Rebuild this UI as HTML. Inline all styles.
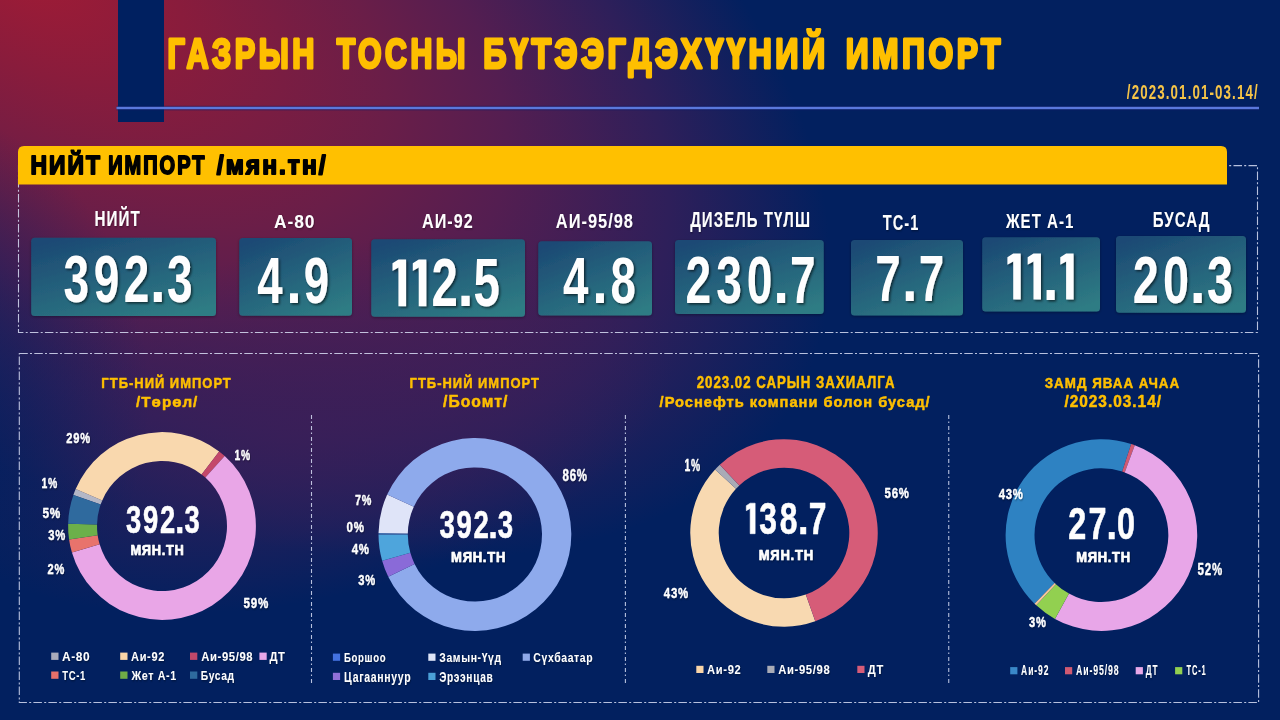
<!DOCTYPE html>
<html><head><meta charset="utf-8"><style>
html,body{margin:0;padding:0;width:1280px;height:720px;overflow:hidden;background:#02205f}
svg{display:block}
text{font-family:"Liberation Sans",sans-serif}
</style></head><body>
<svg width="1280" height="720" viewBox="0 0 1280 720">
<defs>
<radialGradient id="bg" gradientUnits="userSpaceOnUse" cx="0" cy="0" r="1" gradientTransform="translate(20,-35) rotate(29) scale(890,468)">
<stop offset="0" stop-color="#a01b35"/>
<stop offset="0.2" stop-color="#891c3c"/>
<stop offset="0.45" stop-color="#6a1e48"/>
<stop offset="0.6" stop-color="#541e51"/>
<stop offset="0.8" stop-color="#2e1f5a"/>
<stop offset="1" stop-color="#02205f"/>
</radialGradient>
<radialGradient id="glow" gradientUnits="userSpaceOnUse" cx="0" cy="0" r="1" gradientTransform="translate(300,425) rotate(-12) scale(380,175)">
<stop offset="0" stop-color="#3c1f58" stop-opacity="0.75"/>
<stop offset="0.6" stop-color="#3c1f58" stop-opacity="0.4"/>
<stop offset="1" stop-color="#3c1f58" stop-opacity="0"/>
</radialGradient>
<radialGradient id="vig" gradientUnits="userSpaceOnUse" cx="0" cy="0" r="1" gradientTransform="translate(-110,400) scale(260,300)">
<stop offset="0" stop-color="#02205f" stop-opacity="0.85"/>
<stop offset="0.5" stop-color="#02205f" stop-opacity="0.45"/>
<stop offset="1" stop-color="#02205f" stop-opacity="0"/>
</radialGradient>
<linearGradient id="bx" x1="0.2" y1="0" x2="0.8" y2="1">
<stop offset="0" stop-color="#1c4a74"/>
<stop offset="1" stop-color="#2f7c84"/>
</linearGradient>
<filter id="tsh" x="-20%" y="-20%" width="140%" height="140%">
<feDropShadow dx="1.5" dy="1.5" stdDeviation="1" flood-color="#000" flood-opacity="0.6"/>
</filter>
<filter id="lsh" x="-20%" y="-30%" width="140%" height="160%">
<feDropShadow dx="0.8" dy="0.8" stdDeviation="0.8" flood-color="#000" flood-opacity="0.45"/>
</filter>
<filter id="bsh" x="-10%" y="-10%" width="120%" height="130%">
<feDropShadow dx="0" dy="1" stdDeviation="1.5" flood-color="#000" flood-opacity="0.35"/>
</filter>
</defs>
<rect x="0" y="0" width="1280" height="720" fill="url(#bg)"/>
<rect x="0" y="0" width="1280" height="720" fill="url(#glow)"/>
<rect x="0" y="0" width="1280" height="720" fill="url(#vig)"/>
<rect x="118" y="0" width="46" height="122" fill="#002060"/>
<rect x="116.5" y="105.8" width="1142.5" height="4.6" fill="#101c66" opacity="0.5"/>
<rect x="116.5" y="106.8" width="1142.5" height="2.4" fill="#5a78dc"/>
<rect x="18.5" y="165.6" width="1239" height="166.9" stroke="#d8def5" stroke-opacity="0.85" stroke-width="1.1" fill="none" stroke-dasharray="8.5 2.2 2 2.3"/>
<path d="M18,152 Q18,146 24,146 L1221,146 Q1227,146 1227,152 L1227,184.5 L18,184.5 Z" fill="#ffc000"/>
<path d="M18,146 L18,184.5" stroke="none"/>
<rect x="19.3" y="353.5" width="1239.3" height="349" stroke="#d8def5" stroke-opacity="0.85" stroke-width="1.1" fill="none" stroke-dasharray="8.5 2.2 2 2.3"/>
<line x1="311.5" y1="415" x2="311.5" y2="683.5" stroke="#d8def5" stroke-opacity="0.85" stroke-width="1.1" fill="none" stroke-dasharray="4 2.5 1.5 3"/>
<line x1="625.4" y1="415" x2="625.4" y2="683.5" stroke="#d8def5" stroke-opacity="0.85" stroke-width="1.1" fill="none" stroke-dasharray="4 2.5 1.5 3"/>
<line x1="948.75" y1="415" x2="948.75" y2="683.5" stroke="#d8def5" stroke-opacity="0.85" stroke-width="1.1" fill="none" stroke-dasharray="4 2.5 1.5 3"/>
<rect x="31.2" y="237.7" width="184.80" height="78.30" rx="3.5" fill="url(#bx)" filter="url(#bsh)"/>
<rect x="239.25" y="238" width="112.75" height="77.75" rx="3.5" fill="url(#bx)" filter="url(#bsh)"/>
<rect x="371.25" y="239.25" width="153.75" height="77.50" rx="3.5" fill="url(#bx)" filter="url(#bsh)"/>
<rect x="538.25" y="241.25" width="113.75" height="74.25" rx="3.5" fill="url(#bx)" filter="url(#bsh)"/>
<rect x="675" y="240" width="148.75" height="74.00" rx="3.5" fill="url(#bx)" filter="url(#bsh)"/>
<rect x="851" y="240" width="112.00" height="75.50" rx="3.5" fill="url(#bx)" filter="url(#bsh)"/>
<rect x="982.2" y="237.2" width="117.80" height="74.40" rx="3.5" fill="url(#bx)" filter="url(#bsh)"/>
<rect x="1116" y="236" width="130.00" height="76.75" rx="3.5" fill="url(#bx)" filter="url(#bsh)"/>
<path d="M73.38,494.96 A93.9,93.9 0 0 1 75.69,489.01 L102.26,500.39 A65,65 0 0 0 100.65,504.52 Z" fill="#b4b7c6" />
<path d="M75.69,489.01 A93.9,93.9 0 0 1 219.16,451.50 L201.57,474.43 A65,65 0 0 0 102.26,500.39 Z" fill="#f9d8ae" />
<path d="M219.16,451.50 A93.9,93.9 0 0 1 224.71,456.11 L205.41,477.62 A65,65 0 0 0 201.57,474.43 Z" fill="#c4486a" />
<path d="M224.71,456.11 A93.9,93.9 0 1 1 71.92,552.51 L99.64,544.35 A65,65 0 1 0 205.41,477.62 Z" fill="#e9a6e7" />
<path d="M71.92,552.51 A93.9,93.9 0 0 1 69.06,539.39 L97.66,535.27 A65,65 0 0 0 99.64,544.35 Z" fill="#e8736c" />
<path d="M69.06,539.39 A93.9,93.9 0 0 1 68.13,523.71 L97.02,524.41 A65,65 0 0 0 97.66,535.27 Z" fill="#6cb04a" />
<path d="M68.13,523.71 A93.9,93.9 0 0 1 73.38,494.96 L100.65,504.52 A65,65 0 0 0 97.02,524.41 Z" fill="#2f6a9e" />
<path d="M378.50,534.84 A96.4,96.4 0 0 1 378.51,532.99 L407.81,533.45 A67.1,67.1 0 0 0 407.80,534.73 Z" fill="#3e6db0" />
<path d="M378.51,532.99 A96.4,96.4 0 0 1 387.18,494.52 L413.84,506.67 A67.1,67.1 0 0 0 407.81,533.45 Z" fill="#dfe4f8" />
<path d="M387.18,494.52 A96.4,96.4 0 1 1 388.26,576.76 L414.59,563.91 A67.1,67.1 0 1 0 413.84,506.67 Z" fill="#8eaaec" />
<path d="M388.26,576.76 A96.4,96.4 0 0 1 382.14,560.75 L410.34,552.77 A67.1,67.1 0 0 0 414.59,563.91 Z" fill="#8a6ad8" />
<path d="M382.14,560.75 A96.4,96.4 0 0 1 378.50,534.84 L407.80,534.73 A67.1,67.1 0 0 0 410.34,552.77 Z" fill="#4ea5dc" />
<path d="M815.29,621.37 A93.75,93.75 0 0 1 715.10,469.42 L736.01,488.72 A65.3,65.3 0 0 0 805.80,594.55 Z" fill="#f8d9b1" />
<path d="M715.10,469.42 A93.75,93.75 0 0 1 719.82,464.66 L739.30,485.40 A65.3,65.3 0 0 0 736.01,488.72 Z" fill="#a9abb6" />
<path d="M719.82,464.66 A93.75,93.75 0 1 1 815.29,621.37 L805.80,594.55 A65.3,65.3 0 1 0 739.30,485.40 Z" fill="#d65c78" />
<path d="M1034.49,603.66 A95.8,95.8 0 0 1 1131.16,444.04 L1122.18,471.51 A66.9,66.9 0 0 0 1054.68,582.98 Z" fill="#2e82c2" />
<path d="M1131.16,444.04 A95.8,95.8 0 0 1 1134.79,445.31 L1124.72,472.40 A66.9,66.9 0 0 0 1122.18,471.51 Z" fill="#d05a72" />
<path d="M1134.79,445.31 A95.8,95.8 0 1 1 1054.96,618.89 L1068.97,593.61 A66.9,66.9 0 1 0 1124.72,472.40 Z" fill="#e8a6e8" />
<path d="M1054.96,618.89 A95.8,95.8 0 0 1 1036.25,605.33 L1055.90,584.15 A66.9,66.9 0 0 0 1068.97,593.61 Z" fill="#92d050" />
<path d="M1036.25,605.33 A95.8,95.8 0 0 1 1034.49,603.66 L1054.68,582.98 A66.9,66.9 0 0 0 1055.90,584.15 Z" fill="#f6c89a" />
<rect x="51.2" y="652.6" width="7.3" height="7.3" fill="#a9abbb"/><rect x="120.2" y="652.6" width="7.3" height="7.3" fill="#fad5a8"/><rect x="190" y="652.6" width="7.3" height="7.3" fill="#c0486a"/><rect x="259.4" y="652.6" width="7.3" height="7.3" fill="#e8a8e8"/><rect x="51.2" y="671.5" width="7.3" height="7.3" fill="#e8706a"/><rect x="120.2" y="671.5" width="7.3" height="7.3" fill="#70ad47"/><rect x="190" y="671.5" width="7.3" height="7.3" fill="#2e6a9e"/><rect x="332.9" y="653.6" width="7.2" height="7.2" fill="#4472e0"/><rect x="428.3" y="653.6" width="7.2" height="7.2" fill="#dfe5f8"/><rect x="522.7" y="653.6" width="7.2" height="7.2" fill="#8ea8e8"/><rect x="332.9" y="672.8" width="7.2" height="7.2" fill="#9070d8"/><rect x="428.3" y="672.8" width="7.2" height="7.2" fill="#4aa0d8"/><rect x="696.3" y="665.8" width="7.2" height="7.2" fill="#fad5a8"/><rect x="767.3" y="665.8" width="7.2" height="7.2" fill="#a9abb6"/><rect x="857.3" y="665.8" width="7.2" height="7.2" fill="#d65c78"/><rect x="1010.2" y="667.1" width="7.2" height="7.2" fill="#3a88c8"/><rect x="1065" y="667.1" width="7.2" height="7.2" fill="#d05a72"/><rect x="1135.7" y="667.1" width="7.2" height="7.2" fill="#e8a8e8"/><rect x="1175.1" y="667.1" width="7.2" height="7.2" fill="#92d050"/>
<g opacity="0.999">
<text transform="translate(167.51,68.10) scale(0.7320,1)" font-size="41.88" font-weight="bold" fill="#ffc000" stroke="#ffc000" stroke-width="3" stroke-linejoin="round" letter-spacing="4.781" >ГАЗРЫН</text>
<text transform="translate(336.78,68.10) scale(0.7229,1)" font-size="41.88" font-weight="bold" fill="#ffc000" stroke="#ffc000" stroke-width="3" stroke-linejoin="round" letter-spacing="4.842" >ТОСНЫ</text>
<text transform="translate(483.26,68.10) scale(0.7704,1)" font-size="41.88" font-weight="bold" fill="#ffc000" stroke="#ffc000" stroke-width="3" stroke-linejoin="round" letter-spacing="4.543" >БҮТЭЭГДЭХҮҮНИЙ</text>
<text transform="translate(845.77,68.10) scale(0.7592,1)" font-size="41.88" font-weight="bold" fill="#ffc000" stroke="#ffc000" stroke-width="3" stroke-linejoin="round" letter-spacing="4.610" >ИМПОРТ</text>
<text transform="translate(1126.87,99.20) scale(0.6675,1)" font-size="20.00" font-weight="bold" fill="#f7c548" letter-spacing="1.648" >/2023.01.01-03.14/</text>
<text transform="translate(30.57,173.60) scale(0.8917,1)" font-size="25.65" font-weight="bold" fill="#000" stroke="#000" stroke-width="1.8" stroke-linejoin="round" letter-spacing="2.243" >НИЙТ</text>
<text transform="translate(108.15,173.60) scale(0.7801,1)" font-size="25.65" font-weight="bold" fill="#000" stroke="#000" stroke-width="1.8" stroke-linejoin="round" letter-spacing="2.564" >ИМПОРТ</text>
<text transform="translate(216.87,173.60) scale(0.9583,1)" font-size="25.65" font-weight="bold" fill="#000" stroke="#000" stroke-width="1.8" stroke-linejoin="round" letter-spacing="2.087" >/мян.тн/</text>
<text transform="translate(94.61,225.70) scale(0.7143,1)" font-size="21.30" font-weight="bold" fill="#fff" letter-spacing="1.441"  filter="url(#lsh)">НИЙТ</text>
<text transform="translate(274.07,227.50) scale(0.9043,1)" font-size="19.20" font-weight="bold" fill="#fff" letter-spacing="1.026"  filter="url(#lsh)">А-80</text>
<text transform="translate(422.10,228.00) scale(0.7966,1)" font-size="20.29" font-weight="bold" fill="#fff" letter-spacing="1.230"  filter="url(#lsh)">АИ-92</text>
<text transform="translate(555.84,228.00) scale(0.7948,1)" font-size="20.65" font-weight="bold" fill="#fff" letter-spacing="1.255"  filter="url(#lsh)">АИ-95/98</text>
<text transform="translate(690.15,226.70) scale(0.6900,1)" font-size="21.74" font-weight="bold" fill="#fff" letter-spacing="1.522"  filter="url(#lsh)">ДИЗЕЛЬ ТҮЛШ</text>
<text transform="translate(882.85,229.50) scale(0.6907,1)" font-size="21.16" font-weight="bold" fill="#fff" letter-spacing="1.480"  filter="url(#lsh)">ТС-1</text>
<text transform="translate(1006.00,227.80) scale(0.7332,1)" font-size="20.58" font-weight="bold" fill="#fff" letter-spacing="1.356"  filter="url(#lsh)">ЖЕТ А-1</text>
<text transform="translate(1152.82,227.00) scale(0.6991,1)" font-size="21.59" font-weight="bold" fill="#fff" letter-spacing="1.492"  filter="url(#lsh)">БУСАД</text>
<text transform="translate(101.37,387.75) scale(0.8529,1)" font-size="15.22" font-weight="bold" fill="#ffc000" stroke="#ffc000" stroke-width="0.5" stroke-linejoin="round" letter-spacing="1.173" >ГТБ-НИЙ ИМПОРТ</text>
<text transform="translate(136.10,406.75) scale(0.9998,1)" font-size="15.22" font-weight="bold" fill="#ffc000" stroke="#ffc000" stroke-width="0.5" stroke-linejoin="round" letter-spacing="1.000" >/Төрөл/</text>
<text transform="translate(409.57,387.75) scale(0.8521,1)" font-size="15.22" font-weight="bold" fill="#ffc000" stroke="#ffc000" stroke-width="0.5" stroke-linejoin="round" letter-spacing="1.174" >ГТБ-НИЙ ИМПОРТ</text>
<text transform="translate(443.09,406.75) scale(0.9937,1)" font-size="15.80" font-weight="bold" fill="#ffc000" stroke="#ffc000" stroke-width="0.5" stroke-linejoin="round" letter-spacing="1.006" >/Боомт/</text>
<text transform="translate(696.74,387.75) scale(0.8163,1)" font-size="16.23" font-weight="bold" fill="#ffc000" stroke="#ffc000" stroke-width="0.5" stroke-linejoin="round" letter-spacing="1.225" >2023.02 САРЫН ЗАХИАЛГА</text>
<text transform="translate(659.59,407.25) scale(0.9460,1)" font-size="15.51" font-weight="bold" fill="#ffc000" stroke="#ffc000" stroke-width="0.5" stroke-linejoin="round" letter-spacing="1.057" >/Роснефть компани болон бусад/</text>
<text transform="translate(1044.69,387.75) scale(0.8800,1)" font-size="15.22" font-weight="bold" fill="#ffc000" stroke="#ffc000" stroke-width="0.5" stroke-linejoin="round" letter-spacing="1.136" >ЗАМД ЯВАА АЧАА</text>
<text transform="translate(1064.39,406.75) scale(0.9748,1)" font-size="15.80" font-weight="bold" fill="#ffc000" stroke="#ffc000" stroke-width="0.5" stroke-linejoin="round" letter-spacing="1.026" >/2023.03.14/</text>
<text transform="translate(130.38,555.35) scale(0.8845,1)" font-size="14.49" font-weight="bold" fill="#fff" stroke="#fff" stroke-width="0.7" stroke-linejoin="round" letter-spacing="0.847"  filter="url(#lsh)">МЯН.ТН</text>
<text transform="translate(451.07,562.35) scale(0.8972,1)" font-size="14.49" font-weight="bold" fill="#fff" stroke="#fff" stroke-width="0.7" stroke-linejoin="round" letter-spacing="0.835"  filter="url(#lsh)">МЯН.ТН</text>
<text transform="translate(758.66,559.65) scale(0.8642,1)" font-size="15.07" font-weight="bold" fill="#fff" stroke="#fff" stroke-width="0.7" stroke-linejoin="round" letter-spacing="0.899"  filter="url(#lsh)">МЯН.ТН</text>
<text transform="translate(1076.17,562.35) scale(0.8918,1)" font-size="14.49" font-weight="bold" fill="#fff" stroke="#fff" stroke-width="0.7" stroke-linejoin="round" letter-spacing="0.840"  filter="url(#lsh)">МЯН.ТН</text>
<text transform="translate(66.34,442.88) scale(0.7676,1)" font-size="14.49" font-weight="bold" fill="#fff" stroke="#fff" stroke-width="0.35" stroke-linejoin="round" letter-spacing="0.944"  filter="url(#lsh)">29%</text>
<text transform="translate(234.50,459.82) scale(0.6668,1)" font-size="15.43" font-weight="bold" fill="#fff" stroke="#fff" stroke-width="0.35" stroke-linejoin="round" letter-spacing="1.155"  filter="url(#lsh)">1%</text>
<text transform="translate(41.50,487.52) scale(0.7057,1)" font-size="14.71" font-weight="bold" fill="#fff" stroke="#fff" stroke-width="0.35" stroke-linejoin="round" letter-spacing="1.042"  filter="url(#lsh)">1%</text>
<text transform="translate(42.39,517.62) scale(0.8439,1)" font-size="13.99" font-weight="bold" fill="#fff" stroke="#fff" stroke-width="0.35" stroke-linejoin="round" letter-spacing="0.830"  filter="url(#lsh)">5%</text>
<text transform="translate(48.15,539.62) scale(0.7728,1)" font-size="14.57" font-weight="bold" fill="#fff" stroke="#fff" stroke-width="0.35" stroke-linejoin="round" letter-spacing="0.942"  filter="url(#lsh)">3%</text>
<text transform="translate(47.54,573.73) scale(0.7435,1)" font-size="14.86" font-weight="bold" fill="#fff" stroke="#fff" stroke-width="0.35" stroke-linejoin="round" letter-spacing="0.998"  filter="url(#lsh)">2%</text>
<text transform="translate(243.54,607.73) scale(0.7662,1)" font-size="15.14" font-weight="bold" fill="#fff" stroke="#fff" stroke-width="0.35" stroke-linejoin="round" letter-spacing="0.987"  filter="url(#lsh)">59%</text>
<text transform="translate(562.58,480.72) scale(0.7355,1)" font-size="15.58" font-weight="bold" fill="#fff" stroke="#fff" stroke-width="0.35" stroke-linejoin="round" letter-spacing="1.056"  filter="url(#lsh)">86%</text>
<text transform="translate(354.90,504.88) scale(0.7307,1)" font-size="14.78" font-weight="bold" fill="#fff" stroke="#fff" stroke-width="0.35" stroke-linejoin="round" letter-spacing="1.011"  filter="url(#lsh)">7%</text>
<text transform="translate(346.58,531.93) scale(0.7750,1)" font-size="14.86" font-weight="bold" fill="#fff" stroke="#fff" stroke-width="0.35" stroke-linejoin="round" letter-spacing="0.957"  filter="url(#lsh)">0%</text>
<text transform="translate(351.77,553.62) scale(0.8030,1)" font-size="14.28" font-weight="bold" fill="#fff" stroke="#fff" stroke-width="0.35" stroke-linejoin="round" letter-spacing="0.889"  filter="url(#lsh)">4%</text>
<text transform="translate(358.35,584.62) scale(0.7679,1)" font-size="14.57" font-weight="bold" fill="#fff" stroke="#fff" stroke-width="0.35" stroke-linejoin="round" letter-spacing="0.948"  filter="url(#lsh)">3%</text>
<text transform="translate(684.50,470.82) scale(0.6604,1)" font-size="15.58" font-weight="bold" fill="#fff" stroke="#fff" stroke-width="0.35" stroke-linejoin="round" letter-spacing="1.177"  filter="url(#lsh)">1%</text>
<text transform="translate(884.59,497.82) scale(0.7395,1)" font-size="15.43" font-weight="bold" fill="#fff" stroke="#fff" stroke-width="0.35" stroke-linejoin="round" letter-spacing="1.041"  filter="url(#lsh)">56%</text>
<text transform="translate(663.76,597.83) scale(0.7405,1)" font-size="15.43" font-weight="bold" fill="#fff" stroke="#fff" stroke-width="0.35" stroke-linejoin="round" letter-spacing="1.040"  filter="url(#lsh)">43%</text>
<text transform="translate(998.76,498.72) scale(0.7413,1)" font-size="15.29" font-weight="bold" fill="#fff" stroke="#fff" stroke-width="0.35" stroke-linejoin="round" letter-spacing="1.029"  filter="url(#lsh)">43%</text>
<text transform="translate(1197.58,574.83) scale(0.7388,1)" font-size="15.58" font-weight="bold" fill="#fff" stroke="#fff" stroke-width="0.35" stroke-linejoin="round" letter-spacing="1.052"  filter="url(#lsh)">52%</text>
<text transform="translate(1029.05,626.83) scale(0.7234,1)" font-size="15.43" font-weight="bold" fill="#fff" stroke="#fff" stroke-width="0.35" stroke-linejoin="round" letter-spacing="1.064"  filter="url(#lsh)">3%</text>
<text transform="translate(62.00,660.90) scale(0.9023,1)" font-size="13.19" font-weight="bold" fill="#fff" letter-spacing="0.706"  filter="url(#lsh)">А-80</text>
<text transform="translate(131.12,660.90) scale(0.8350,1)" font-size="13.19" font-weight="bold" fill="#fff" letter-spacing="0.763"  filter="url(#lsh)">Аи-92</text>
<text transform="translate(201.22,660.90) scale(0.8539,1)" font-size="13.19" font-weight="bold" fill="#fff" letter-spacing="0.746"  filter="url(#lsh)">Аи-95/98</text>
<text transform="translate(269.39,660.90) scale(0.8520,1)" font-size="13.19" font-weight="bold" fill="#fff" letter-spacing="0.748"  filter="url(#lsh)">ДТ</text>
<text transform="translate(62.20,679.60) scale(0.7214,1)" font-size="13.19" font-weight="bold" fill="#fff" letter-spacing="0.883"  filter="url(#lsh)">ТС-1</text>
<text transform="translate(131.40,679.60) scale(0.8137,1)" font-size="13.19" font-weight="bold" fill="#fff" letter-spacing="0.783"  filter="url(#lsh)">Жет А-1</text>
<text transform="translate(200.83,679.60) scale(0.7791,1)" font-size="13.19" font-weight="bold" fill="#fff" letter-spacing="0.818"  filter="url(#lsh)">Бусад</text>
<text transform="translate(343.98,662.30) scale(0.7040,1)" font-size="13.62" font-weight="bold" fill="#fff" letter-spacing="0.935"  filter="url(#lsh)">Боршоо</text>
<text transform="translate(439.24,662.30) scale(0.7616,1)" font-size="13.62" font-weight="bold" fill="#fff" letter-spacing="0.864"  filter="url(#lsh)">Замын-Үүд</text>
<text transform="translate(533.28,662.30) scale(0.7632,1)" font-size="13.62" font-weight="bold" fill="#fff" letter-spacing="0.862"  filter="url(#lsh)">Сүхбаатар</text>
<text transform="translate(343.92,681.50) scale(0.7303,1)" font-size="14.35" font-weight="bold" fill="#fff" letter-spacing="0.949"  filter="url(#lsh)">Цагааннуур</text>
<text transform="translate(439.20,681.50) scale(0.7043,1)" font-size="14.35" font-weight="bold" fill="#fff" letter-spacing="0.984"  filter="url(#lsh)">Эрээнцав</text>
<text transform="translate(707.12,674.00) scale(0.8168,1)" font-size="13.62" font-weight="bold" fill="#fff" letter-spacing="0.806"  filter="url(#lsh)">Аи-92</text>
<text transform="translate(778.22,674.00) scale(0.8240,1)" font-size="13.62" font-weight="bold" fill="#fff" letter-spacing="0.799"  filter="url(#lsh)">Аи-95/98</text>
<text transform="translate(867.79,674.00) scale(0.8180,1)" font-size="13.62" font-weight="bold" fill="#fff" letter-spacing="0.804"  filter="url(#lsh)">ДТ</text>
<text transform="translate(1021.09,674.90) scale(0.6195,1)" font-size="13.77" font-weight="bold" fill="#fff" letter-spacing="1.453"  filter="url(#lsh)">Аи-92</text>
<text transform="translate(1075.98,674.90) scale(0.6337,1)" font-size="13.77" font-weight="bold" fill="#fff" letter-spacing="1.420"  filter="url(#lsh)">Аи-95/98</text>
<text transform="translate(1145.72,674.90) scale(0.5955,1)" font-size="13.77" font-weight="bold" fill="#fff" letter-spacing="1.511"  filter="url(#lsh)">ДТ</text>
<text transform="translate(1186.42,674.90) scale(0.5452,1)" font-size="13.77" font-weight="bold" fill="#fff" letter-spacing="1.651"  filter="url(#lsh)">ТС-1</text>
<g filter="url(#tsh)"><text transform="translate(63.55,302.00) scale(0.7000,1)" font-size="65.80" font-weight="bold" fill="#fff" stroke="#fff" stroke-width="0.000" stroke-linejoin="round">3</text><text transform="translate(93.69,302.00) scale(0.7000,1)" font-size="65.80" font-weight="bold" fill="#fff" stroke="#fff" stroke-width="0.000" stroke-linejoin="round">9</text><text transform="translate(123.83,302.00) scale(0.7000,1)" font-size="65.80" font-weight="bold" fill="#fff" stroke="#fff" stroke-width="0.000" stroke-linejoin="round">2</text><text transform="translate(150.12,302.00) scale(0.8566,1)" font-size="65.80" font-weight="bold" fill="#fff" stroke="#fff" stroke-width="0.000" stroke-linejoin="round">.</text><text transform="translate(167.05,302.00) scale(0.7000,1)" font-size="65.80" font-weight="bold" fill="#fff" stroke="#fff" stroke-width="0.000" stroke-linejoin="round">3</text></g>
<g filter="url(#tsh)"><text transform="translate(257.32,303.00) scale(0.7000,1)" font-size="65.22" font-weight="bold" fill="#fff" stroke="#fff" stroke-width="0.000" stroke-linejoin="round">4</text><text transform="translate(286.21,303.00) scale(0.8566,1)" font-size="65.22" font-weight="bold" fill="#fff" stroke="#fff" stroke-width="0.000" stroke-linejoin="round">.</text><text transform="translate(303.76,303.00) scale(0.7000,1)" font-size="65.22" font-weight="bold" fill="#fff" stroke="#fff" stroke-width="0.000" stroke-linejoin="round">9</text></g>
<g filter="url(#tsh)"><polygon points="392.50,263.33 398.44,259.50 406.06,259.50 406.06,306.25 398.44,306.25 398.44,267.54 392.50,270.95" fill="#fff" stroke="#fff" stroke-width="0" stroke-linejoin="round"/><polygon points="412.79,263.33 418.73,259.50 426.35,259.50 426.35,306.25 418.73,306.25 418.73,267.54 412.79,270.95" fill="#fff" stroke="#fff" stroke-width="0" stroke-linejoin="round"/><text transform="translate(431.42,306.25) scale(0.7000,1)" font-size="67.75" font-weight="bold" fill="#fff" stroke="#fff" stroke-width="0.000" stroke-linejoin="round">2</text><text transform="translate(457.46,306.25) scale(0.8566,1)" font-size="67.75" font-weight="bold" fill="#fff" stroke="#fff" stroke-width="0.000" stroke-linejoin="round">.</text><text transform="translate(473.61,306.25) scale(0.7000,1)" font-size="67.75" font-weight="bold" fill="#fff" stroke="#fff" stroke-width="0.000" stroke-linejoin="round">5</text></g>
<g filter="url(#tsh)"><text transform="translate(563.07,303.00) scale(0.7000,1)" font-size="65.22" font-weight="bold" fill="#fff" stroke="#fff" stroke-width="0.000" stroke-linejoin="round">4</text><text transform="translate(592.36,303.00) scale(0.8566,1)" font-size="65.22" font-weight="bold" fill="#fff" stroke="#fff" stroke-width="0.000" stroke-linejoin="round">.</text><text transform="translate(610.53,303.00) scale(0.7000,1)" font-size="65.22" font-weight="bold" fill="#fff" stroke="#fff" stroke-width="0.000" stroke-linejoin="round">8</text></g>
<g filter="url(#tsh)"><text transform="translate(685.38,302.50) scale(0.7000,1)" font-size="65.94" font-weight="bold" fill="#fff" stroke="#fff" stroke-width="0.000" stroke-linejoin="round">2</text><text transform="translate(716.25,302.50) scale(0.7000,1)" font-size="65.94" font-weight="bold" fill="#fff" stroke="#fff" stroke-width="0.000" stroke-linejoin="round">3</text><text transform="translate(746.66,302.50) scale(0.7000,1)" font-size="65.94" font-weight="bold" fill="#fff" stroke="#fff" stroke-width="0.000" stroke-linejoin="round">0</text><text transform="translate(773.36,302.50) scale(0.8566,1)" font-size="65.94" font-weight="bold" fill="#fff" stroke="#fff" stroke-width="0.000" stroke-linejoin="round">.</text><text transform="translate(789.98,302.50) scale(0.7000,1)" font-size="65.94" font-weight="bold" fill="#fff" stroke="#fff" stroke-width="0.000" stroke-linejoin="round">7</text></g>
<g filter="url(#tsh)"><text transform="translate(875.17,301.00) scale(0.7000,1)" font-size="65.51" font-weight="bold" fill="#fff" stroke="#fff" stroke-width="0.000" stroke-linejoin="round">7</text><text transform="translate(901.98,301.00) scale(0.8566,1)" font-size="65.51" font-weight="bold" fill="#fff" stroke="#fff" stroke-width="0.000" stroke-linejoin="round">.</text><text transform="translate(918.78,301.00) scale(0.7000,1)" font-size="65.51" font-weight="bold" fill="#fff" stroke="#fff" stroke-width="0.000" stroke-linejoin="round">7</text></g>
<g filter="url(#tsh)"><polygon points="1007.40,257.36 1013.23,253.60 1020.71,253.60 1020.71,299.50 1013.23,299.50 1013.23,261.49 1007.40,264.85" fill="#fff" stroke="#fff" stroke-width="0" stroke-linejoin="round"/><polygon points="1027.64,257.36 1033.47,253.60 1040.95,253.60 1040.95,299.50 1033.47,299.50 1033.47,261.49 1027.64,264.85" fill="#fff" stroke="#fff" stroke-width="0" stroke-linejoin="round"/><text transform="translate(1042.78,299.50) scale(0.8566,1)" font-size="66.52" font-weight="bold" fill="#fff" stroke="#fff" stroke-width="0.000" stroke-linejoin="round">.</text><polygon points="1060.29,257.36 1066.12,253.60 1073.60,253.60 1073.60,299.50 1066.12,299.50 1066.12,261.49 1060.29,264.85" fill="#fff" stroke="#fff" stroke-width="0" stroke-linejoin="round"/></g>
<g filter="url(#tsh)"><text transform="translate(1132.76,303.10) scale(0.7000,1)" font-size="66.96" font-weight="bold" fill="#fff" stroke="#fff" stroke-width="0.000" stroke-linejoin="round">2</text><text transform="translate(1162.94,303.10) scale(0.7000,1)" font-size="66.96" font-weight="bold" fill="#fff" stroke="#fff" stroke-width="0.000" stroke-linejoin="round">0</text><text transform="translate(1189.68,303.10) scale(0.8566,1)" font-size="66.96" font-weight="bold" fill="#fff" stroke="#fff" stroke-width="0.000" stroke-linejoin="round">.</text><text transform="translate(1206.88,303.10) scale(0.7000,1)" font-size="66.96" font-weight="bold" fill="#fff" stroke="#fff" stroke-width="0.000" stroke-linejoin="round">3</text></g>
<g><text transform="translate(125.92,533.40) scale(0.7200,1)" font-size="37.97" font-weight="bold" fill="#fff" stroke="#fff" stroke-width="0.600" stroke-linejoin="round">3</text><text transform="translate(143.02,533.40) scale(0.7200,1)" font-size="37.97" font-weight="bold" fill="#fff" stroke="#fff" stroke-width="0.600" stroke-linejoin="round">9</text><text transform="translate(160.12,533.40) scale(0.7200,1)" font-size="37.97" font-weight="bold" fill="#fff" stroke="#fff" stroke-width="0.600" stroke-linejoin="round">2</text><text transform="translate(175.16,533.40) scale(0.8566,1)" font-size="37.97" font-weight="bold" fill="#fff" stroke="#fff" stroke-width="0.600" stroke-linejoin="round">.</text><text transform="translate(184.38,533.40) scale(0.7200,1)" font-size="37.97" font-weight="bold" fill="#fff" stroke="#fff" stroke-width="0.600" stroke-linejoin="round">3</text></g>
<g><text transform="translate(439.41,537.75) scale(0.7200,1)" font-size="38.33" font-weight="bold" fill="#fff" stroke="#fff" stroke-width="0.600" stroke-linejoin="round">3</text><text transform="translate(456.46,537.75) scale(0.7200,1)" font-size="38.33" font-weight="bold" fill="#fff" stroke="#fff" stroke-width="0.600" stroke-linejoin="round">9</text><text transform="translate(473.50,537.75) scale(0.7200,1)" font-size="38.33" font-weight="bold" fill="#fff" stroke="#fff" stroke-width="0.600" stroke-linejoin="round">2</text><text transform="translate(488.51,537.75) scale(0.8566,1)" font-size="38.33" font-weight="bold" fill="#fff" stroke="#fff" stroke-width="0.600" stroke-linejoin="round">.</text><text transform="translate(497.65,537.75) scale(0.7200,1)" font-size="38.33" font-weight="bold" fill="#fff" stroke="#fff" stroke-width="0.600" stroke-linejoin="round">3</text></g>
<g><polygon points="746.30,505.70 750.17,503.20 755.14,503.20 755.14,533.70 750.17,533.70 750.17,508.45 746.30,510.67" fill="#fff" stroke="#fff" stroke-width="0.6" stroke-linejoin="round"/><text transform="translate(759.30,533.70) scale(0.7200,1)" font-size="44.20" font-weight="bold" fill="#fff" stroke="#fff" stroke-width="0.600" stroke-linejoin="round">3</text><text transform="translate(779.86,533.70) scale(0.7200,1)" font-size="44.20" font-weight="bold" fill="#fff" stroke="#fff" stroke-width="0.600" stroke-linejoin="round">8</text><text transform="translate(798.07,533.70) scale(0.8566,1)" font-size="44.20" font-weight="bold" fill="#fff" stroke="#fff" stroke-width="0.600" stroke-linejoin="round">.</text><text transform="translate(808.71,533.70) scale(0.7200,1)" font-size="44.20" font-weight="bold" fill="#fff" stroke="#fff" stroke-width="0.600" stroke-linejoin="round">7</text></g>
<g><text transform="translate(1068.17,538.50) scale(0.7400,1)" font-size="43.77" font-weight="bold" fill="#fff" stroke="#fff" stroke-width="0.600" stroke-linejoin="round">2</text><text transform="translate(1088.42,538.50) scale(0.7400,1)" font-size="43.77" font-weight="bold" fill="#fff" stroke="#fff" stroke-width="0.600" stroke-linejoin="round">7</text><text transform="translate(1106.55,538.50) scale(0.8566,1)" font-size="43.77" font-weight="bold" fill="#fff" stroke="#fff" stroke-width="0.600" stroke-linejoin="round">.</text><text transform="translate(1117.02,538.50) scale(0.7400,1)" font-size="43.77" font-weight="bold" fill="#fff" stroke="#fff" stroke-width="0.600" stroke-linejoin="round">0</text></g>
</g>
</svg>
</body></html>
